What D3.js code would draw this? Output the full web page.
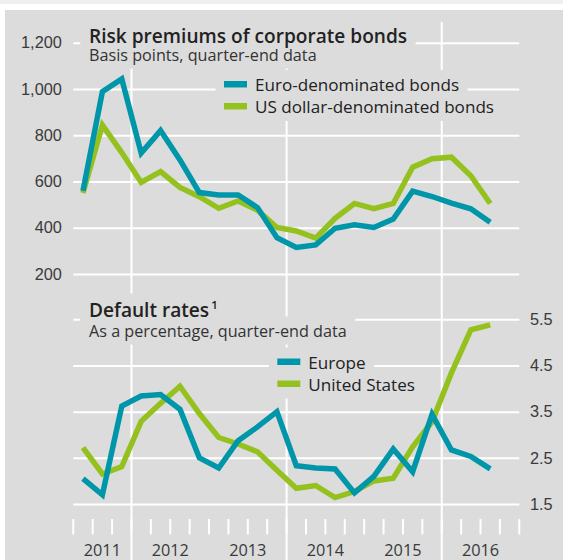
<!DOCTYPE html>
<html>
<head>
<meta charset="utf-8">
<script src="https://cdn.jsdelivr.net/npm/d3@7"></script>
<style>
  body { margin: 0; background: #fff; }
  svg { display: block; font-family: "Open Sans", "Noto Sans", sans-serif; }
</style>
</head>
<body>
<div id="chart"></div>
<script>
// Quarter bins shown on the x axis (2011 Q2 to 2016 Q4)
var quarters = ["2011Q2", "2011Q3", "2011Q4",
                "2012Q1", "2012Q2", "2012Q3", "2012Q4",
                "2013Q1", "2013Q2", "2013Q3", "2013Q4",
                "2014Q1", "2014Q2", "2014Q3", "2014Q4",
                "2015Q1", "2015Q2", "2015Q3", "2015Q4",
                "2016Q1", "2016Q2", "2016Q3", "2016Q4"];
var years = ["2011", "2012", "2013", "2014", "2015", "2016"];
var gridYears = ["2012", "2014", "2016"];

// Risk premiums, basis points (2011Q2 .. 2016Q3)
var euroBonds = [560, 988, 1043, 723, 820, 693, 552, 542, 542, 487, 357,
                 315, 326, 398, 413, 401, 438, 558, 535, 506, 482, 424];
var usBonds   = [550, 844, 725, 596, 643, 574, 534, 484, 516, 476, 401,
                 386, 355, 441, 505, 483, 505, 662, 698, 705, 625, 505];

// Default rates, percent
var europeDefault = [2.05, 1.70, 3.62, 3.84, 3.87, 3.55, 2.50, 2.28, 2.87, 3.17, 3.50,
                     2.33, 2.28, 2.26, 1.74, 2.10, 2.69, 2.20, 3.44, 2.67, 2.53, 2.26];
var usDefault     = [2.72, 2.15, 2.31, 3.29, 3.68, 4.05, 3.46, 2.94, 2.80, 2.63, 2.23,
                     1.84, 1.90, 1.64, 1.77, 2.00, 2.06, 2.74, 3.28, 4.34, 5.27, 5.38];

var topTicks = [200, 400, 600, 800, 1000, 1200];
var bottomTicks = [1.5, 2.5, 3.5, 4.5, 5.5];

var blue = "#0096a9";
var green = "#95c11f";
var panel = "#dcdcdc";

function init() {
    var w = 563, h = 560;
    var left = 73.3, right = 519.3;
    var axisSize = 16.3;

    var svg = d3.select("#chart").append("svg")
                .attr("width", w)
                .attr("height", h);

    // background strips
    svg.append("rect").attr("x", 0).attr("y", 0).attr("width", w).attr("height", 4).attr("fill", "#efefef");
    svg.append("rect").attr("x", 5).attr("y", 10).attr("width", w - 5).attr("height", h - 10).attr("fill", panel);

    var x = d3.scaleBand().domain(quarters).range([left, right]).paddingInner(0).paddingOuter(0);
    var xMid = function(i) { return x(quarters[i]) + x.bandwidth() / 2; };

    var yTop = d3.scaleLinear().domain([200, 1200]).range([274, 42.7]);
    var yBot = d3.scaleLinear().domain([1.5, 5.5]).range([504, 319.3]);

    var grid = svg.append("g");

    // horizontal grid lines
    grid.append("g")
        .attr("transform", "translate(" + left + ",0)")
        .call(d3.axisLeft(yTop).tickValues(topTicks).tickSize(-(right - left)).tickFormat(""))
        .call(g => g.select(".domain").remove());
    grid.append("g")
        .attr("transform", "translate(" + left + ",0)")
        .call(d3.axisLeft(yBot).tickValues(bottomTicks).tickSize(-(right - left)).tickFormat(""))
        .call(g => g.select(".domain").remove());

    // vertical grid lines every two years
    grid.selectAll("line.vgrid")
        .data(gridYears)
        .enter().append("line")
        .attr("class", "vgrid")
        .attr("x1", d => x(d + "Q1")).attr("x2", d => x(d + "Q1"))
        .attr("y1", 21.7).attr("y2", h);

    // quarter ticks
    var tickPos = quarters.map(q => x(q)).concat([right]);
    grid.selectAll("line.qtick")
        .data(tickPos)
        .enter().append("line")
        .attr("class", "qtick")
        .attr("x1", d => d).attr("x2", d => d)
        .attr("y1", 519).attr("y2", 534.5);

    grid.selectAll("line").attr("stroke", "#fff").attr("stroke-width", 2);

    // axis labels
    var lab = svg.append("g").attr("font-size", axisSize).attr("fill", "#3a3a3a");
    lab.append("g")
        .attr("transform", "translate(" + left + ",0)")
        .call(d3.axisLeft(yTop).tickValues(topTicks).tickSize(0).tickPadding(11.5).tickFormat(d3.format(",")))
        .call(g => g.select(".domain").remove())
        .selectAll("text").attr("font-size", axisSize).attr("fill", "#3a3a3a").attr("font-family", null);
    lab.append("g")
        .attr("transform", "translate(" + right + ",0)")
        .call(d3.axisRight(yBot).tickValues(bottomTicks).tickSize(0).tickPadding(10.7).tickFormat(d3.format(".1f")))
        .call(g => g.select(".domain").remove())
        .selectAll("text").attr("font-size", axisSize).attr("fill", "#3a3a3a").attr("font-family", null);

    // year labels
    lab.selectAll("text.year")
        .data(years)
        .enter().append("text")
        .attr("class", "year")
        .attr("x", function(d) {
            var qs = quarters.filter(q => q.slice(0, 4) === d);
            var a = x(qs[0]), b = x(qs[qs.length - 1]) + x.bandwidth();
            return (a + b) / 2;
        })
        .attr("y", 556)
        .attr("text-anchor", "middle")
        .text(d => d);

    // text with a panel-coloured box behind it (boxes under all texts)
    var boxes = svg.append("g");
    var texts = svg.append("g");
    function boxed(xp, yp, size, weight, col, str, sup, extraLeft) {
        var t = texts.append("text")
                 .attr("x", xp).attr("y", yp)
                 .attr("font-size", size)
                 .attr("font-weight", weight)
                 .attr("fill", col)
                 .text(str);
        if (sup) {
            t.append("tspan").attr("font-size", 11.5).attr("dy", -8).attr("dx", 2).text(sup);
        }
        var bb = t.node().getBBox();
        var el = extraLeft || 0;
        boxes.append("rect").attr("fill", panel)
             .attr("x", bb.x - 8.5 - el).attr("y", bb.y - 3)
             .attr("width", bb.width + 17 + el).attr("height", bb.height + 6);
    }

    boxed(89, 42.5, 19.1, 600, "#222", "Risk premiums of corporate bonds");
    boxed(89, 60.5, 16.2, 400, "#333", "Basis points, quarter-end data");
    boxed(89, 316.5, 19.1, 600, "#222", "Default rates", "1");
    boxed(89, 336.5, 16.2, 400, "#333", "As a percentage, quarter-end data");

    // legends
    function legend(x0, y0, items) {
        items.forEach(function(it, i) {
            var yy = y0 + i * 22;
            boxed(x0 + 31, yy, 17.1, 500, "#222", it[0], null, 31);
            texts.append("rect")
             .attr("x", x0).attr("y", yy - 10)
             .attr("width", 23).attr("height", 6.5)
             .attr("fill", it[1]);
        });
    }
    legend(224, 91, [["Euro-denominated bonds", blue], ["US dollar-denominated bonds", green]]);
    legend(277.3, 368.5, [["Europe", blue], ["United States", green]]);

    // series lines
    var lineTop = d3.line().x((d, i) => xMid(i)).y(d => yTop(d));
    var lineBot = d3.line().x((d, i) => xMid(i)).y(d => yBot(d));
    var series = [
        [usBonds, lineTop, green],
        [euroBonds, lineTop, blue],
        [usDefault, lineBot, green],
        [europeDefault, lineBot, blue]
    ];
    series.forEach(function(s) {
        svg.append("path")
           .datum(s[0])
           .attr("d", s[1])
           .attr("fill", "none")
           .attr("stroke", s[2])
           .attr("stroke-width", 5.5)
           .attr("stroke-linejoin", "miter");
    });
}

window.onload = init;
</script>
</body>
</html>
